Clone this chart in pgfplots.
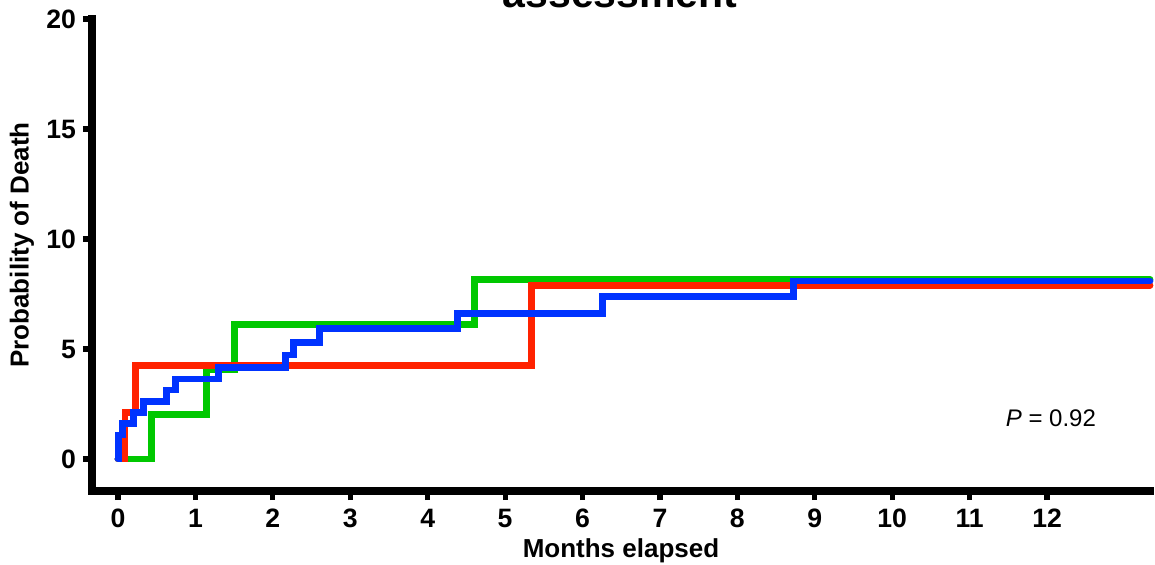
\documentclass[border=0pt]{standalone}
\usepackage{pgfplots}
\pgfplotsset{compat=1.18}
\usepackage{fontspec}
\setmainfont{Liberation Sans}
\definecolor{kmred}{RGB}{255,34,0}
\definecolor{kmgreen}{RGB}{0,200,0}
\definecolor{kmblue}{RGB}{0,51,255}
\begin{document}
\begin{tikzpicture}
\begin{axis}[
  at={(0pt,0pt)}, anchor=south west,
  scale only axis, width=529pt, height=236pt,
  xmin=-0.336, xmax=13.33, ymin=-1.4545, ymax=20,
  axis lines=left,
  axis line style={-, line width=3.6pt, line cap=rect, black},
  xtick={0,1,...,12}, ytick={0,5,10,15,20},
  tick align=outside, major tick length=4.5pt,
  tick style={line width=2.6pt, black},
  tick label style={font=\bfseries\fontsize{13.3}{15}\selectfont},
  xticklabel style={yshift=-1pt},
  /pgf/number format/assume math mode=true,
  clip=false,
]
\addplot[const plot, kmgreen, line width=3.4pt, line cap=round, line join=miter]
  coordinates {(0,0) (0.43,2.04) (1.14,4.08) (1.5,6.12) (4.6,8.16) (13.33,8.16)};
\addplot[const plot, kmred, line width=3.4pt, line cap=round, line join=miter]
  coordinates {(0,0) (0.09,2.13) (0.23,4.26) (5.34,7.9) (13.33,7.9)};
\addplot[const plot, kmblue, line width=3.4pt, line cap=round, line join=miter]
  coordinates {(0,0) (0.01,1.09) (0.06,1.62) (0.2,2.12) (0.33,2.62) (0.63,3.14) (0.74,3.64) (1.3,4.17) (2.16,4.73) (2.27,5.3) (2.6,5.94) (4.39,6.63) (6.26,7.38) (8.72,8.09) (13.33,8.09)};
\node[font=\fontsize{12}{14}\selectfont] at (axis cs:12.05,1.86) {\textit{P} = 0.92};
\end{axis}
\node[font=\bfseries\fontsize{13}{15}\selectfont] at (264.5pt,-30pt) {Months elapsed};
\node[font=\bfseries\fontsize{13}{15}\selectfont, rotate=90] at (-35pt,123pt) {Probability of Death};
\node[font=\bfseries\fontsize{20.5}{24}\selectfont, anchor=base] at (264pt,242pt) {assessment};
\pgfresetboundingbox
\path[use as bounding box] (-46pt,-36.5pt) rectangle (531.5pt,245.5pt);
\end{tikzpicture}
\end{document}
